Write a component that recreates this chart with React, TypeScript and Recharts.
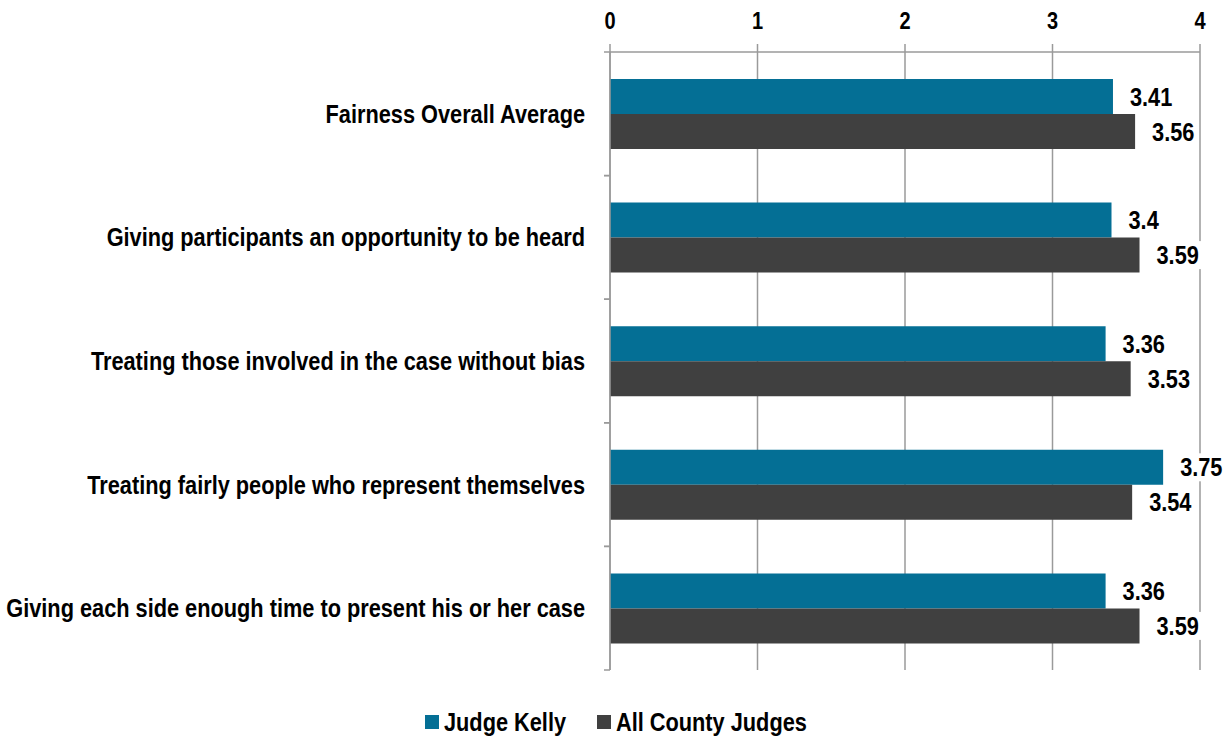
import { BarChart, Bar, XAxis, YAxis, CartesianGrid, Legend, LabelList } from "recharts"

const categories = [
  "Fairness Overall Average",
  "Giving participants an opportunity to be heard",
  "Treating those involved in the case without bias",
  "Treating fairly people who represent themselves",
  "Giving each side enough time to present his or her case",
]
const judgeKelly = [3.41, 3.4, 3.36, 3.75, 3.36]
const allCounty = [3.56, 3.59, 3.53, 3.54, 3.59]
const xTicks = [0, 1, 2, 3, 4]

const data = categories.map((name, i) => ({ name, kelly: judgeKelly[i], county: allCounty[i] }))

const FONT = "'Liberation Sans', Arial, sans-serif"
const TEAL = "#046f95"
const DARK = "#404040"
const GRID = "#9a9a9a"
const SQ = 0.87 // squeeze to mimic a narrow face
const BAND = (670 - 52) / categories.length

const NarrowText = ({ x, y, anchor = "start", size = 25, children }: any) => (
  <text
    transform={`translate(${x},${y}) scale(${SQ},1)`}
    textAnchor={anchor}
    fontFamily={FONT}
    fontWeight="bold"
    fontSize={size}
    fill="#000"
  >
    {children}
  </text>
)

const CategoryTick = (props: any) => {
  const { x, y, payload } = props
  return (
    <g>
      <line x1={x} x2={x + 6} y1={y - BAND / 2} y2={y - BAND / 2} stroke={GRID} strokeWidth={1.5} />
      <line x1={x} x2={x + 6} y1={y + BAND / 2} y2={y + BAND / 2} stroke={GRID} strokeWidth={1.5} />
      <NarrowText x={x - 19} y={y + 9} anchor="end">
        {payload.value}
      </NarrowText>
    </g>
  )
}

const ValueTick = (props: any) => {
  const { x, y, payload } = props
  return (
    <NarrowText x={x} y={y} anchor="middle" size={23}>
      {payload.value}
    </NarrowText>
  )
}

const ValueLabel = (props: any) => {
  const { x, y, width, height, value } = props
  const tx = x + width + 17
  const cy = y + height / 2
  const w = String(value).length * 11 + 4
  return (
    <g>
      <rect x={tx - 3} y={cy - 14} width={w} height={28} fill="#fff" />
      <NarrowText x={tx} y={cy + 9}>
        {value}
      </NarrowText>
    </g>
  )
}

const legendItems = [
  { label: "Judge Kelly", color: TEAL, x: 425 },
  { label: "All County Judges", color: DARK, x: 597 },
]

const LegendContent = () => (
  <svg width={1231} height={30} style={{ display: "block" }}>
    {legendItems.map((it) => (
      <g key={it.label}>
        <rect x={it.x} y={8} width={14} height={14} fill={it.color} />
        <NarrowText x={it.x + 19} y={24}>
          {it.label}
        </NarrowText>
      </g>
    ))}
  </svg>
)

export default function App() {
  return (
    <div style={{ position: "absolute", left: 0, top: 0, background: "#fff" }}>
      <BarChart
        width={1231}
        height={738}
        data={data}
        layout="vertical"
        margin={{ top: 22, right: 31, bottom: 38, left: 0 }}
        barGap={0}
        barSize={35}
      >
        <CartesianGrid horizontal={false} stroke={GRID} strokeWidth={1.5} />
        <XAxis
          type="number"
          orientation="top"
          domain={[0, 4]}
          ticks={xTicks}
          height={30}
          stroke={GRID}
          strokeWidth={1.5}
          tickSize={8}
          tickMargin={15}
          tick={<ValueTick />}
        />
        <YAxis
          type="category"
          dataKey="name"
          width={610}
          stroke={GRID}
          strokeWidth={1.5}
          tickLine={false}
          tickMargin={0}
          tick={<CategoryTick />}
        />
        <Legend verticalAlign="bottom" align="left" content={<LegendContent />} wrapperStyle={{ left: 0, bottom: 1 }} />
        <Bar dataKey="kelly" name="Judge Kelly" fill={TEAL} isAnimationActive={false}>
          <LabelList dataKey="kelly" content={<ValueLabel />} />
        </Bar>
        <Bar dataKey="county" name="All County Judges" fill={DARK} isAnimationActive={false}>
          <LabelList dataKey="county" content={<ValueLabel />} />
        </Bar>
      </BarChart>
    </div>
  )
}
